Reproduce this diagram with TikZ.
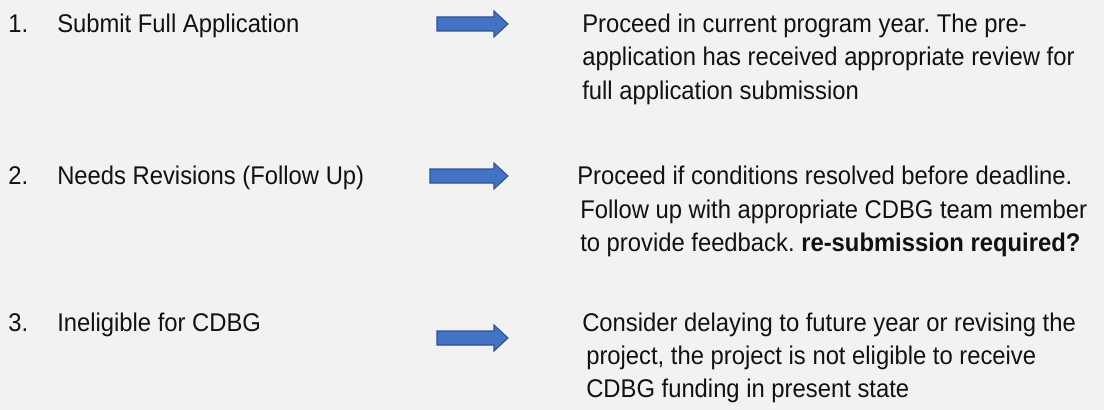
\documentclass[tikz,border=0pt]{standalone}
\usepackage{fontspec}
\setmainfont{Liberation Sans}[FakeStretch=0.93]
\frenchspacing
\definecolor{bgc}{HTML}{F2F2F2}
\definecolor{arrfill}{HTML}{4472C4}
\definecolor{arrline}{HTML}{2F528F}
\definecolor{txt}{HTML}{111111}
\begin{document}
\begin{tikzpicture}[x=0.75pt,y=-0.75pt,
  lbl/.style={anchor=base west,inner sep=0pt,font=\fontsize{19.2pt}{24pt}\selectfont,text=txt},
  blockarrow/.style={fill=arrfill,draw=arrline,line width=0.8pt,line join=miter}]
\fill[bgc] (0,0) rectangle (1104,410);
\useasboundingbox (0,0) rectangle (1104,410);
% left column
\node[lbl] (n1) at (8,33) {1.};
\node[lbl] (t1) at (57,33) {Submit Full Application};
\node[lbl] (n2) at (8,185) {2.};
\node[lbl] (t2) at (57,185) {Needs Revisions (Follow Up)};
\node[lbl] (n3) at (8,331) {3.};
\node[lbl] (t3) at (57,331) {Ineligible for CDBG};
% arrows
\draw[blockarrow] (437,17) -- (494,17) -- (494,11) -- (508,24) -- (494,37) -- (494,31) -- (437,31) -- cycle;
\draw[blockarrow] (430,169) -- (494,169) -- (494,163) -- (508,176) -- (494,189) -- (494,183) -- (430,183) -- cycle;
\draw[blockarrow] (437,331) -- (494,331) -- (494,325) -- (508,338) -- (494,351) -- (494,345) -- (437,345) -- cycle;
% right column
\node[lbl] (r1a) at (582,33) {Proceed in current program year. The pre-};
\node[lbl] (r1b) at (582,66) {application has received appropriate review for};
\node[lbl] (r1c) at (582,99) {full application submission};
\node[lbl] (r2a) at (577,185) {Proceed if conditions resolved before deadline.};
\node[lbl] (r2b) at (580,218) {Follow up with appropriate CDBG team member};
\node[lbl] (r2c) at (580,251) {to provide feedback. \textbf{re-submission required?}};
\node[lbl] (r3a) at (582,331) {Consider delaying to future year or revising the};
\node[lbl] (r3b) at (586,364) {project, the project is not eligible to receive};
\node[lbl] (r3c) at (586,397) {CDBG funding in present state};
\end{tikzpicture}
\end{document}
